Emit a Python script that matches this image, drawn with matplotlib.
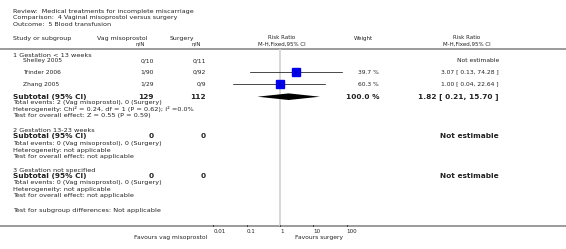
import numpy as np
import matplotlib
matplotlib.use("Agg")
import matplotlib.pyplot as plt

# ---- data ----
title_lines = ["Review:  Medical treatments for incomplete miscarriage",
               "Comparison:  4 Vaginal misoprostol versus surgery",
               "Outcome:  5 Blood transfusion"]
studies = ["Shelley 2005", "Trinder 2006", "Zhang 2005"]
vag_nN = ["0/10", "1/90", "1/29"]
surg_nN = ["0/11", "0/92", "0/9"]
rr = [np.nan, 3.07, 1.00]
rr_lo = [np.nan, 0.13, 0.04]
rr_hi = [np.nan, 74.28, 22.64]
weights = [np.nan, 39.7, 60.3]
rr_text = ["Not estimable", "3.07 [ 0.13, 74.28 ]", "1.00 [ 0.04, 22.64 ]"]
sub_rr, sub_lo, sub_hi = 1.82, 0.21, 15.70
sub_vag_total, sub_surg_total = 129, 112
ticks = [0.01, 0.1, 1, 10, 100]
tick_labels = ["0.01", "0.1", "1", "10", "100"]

W, H = 566, 249
fig = plt.figure(figsize=(W / 100, H / 100), dpi=100)
ax = fig.add_axes([0, 0, 1, 1])
ax.set_xlim(0, W)
ax.set_ylim(H, 0)
ax.axis("off")

FS = 4.3
FN = 4.65
FB = 5.3
TC = "#222222"

def t(x, y, s, ha="left", size=FS, weight="normal", color=TC):
    ax.text(x, y, s, ha=ha, va="center", fontsize=size, fontweight=weight,
            color=color, family="DejaVu Sans")

# titles
for i, s in enumerate(title_lines):
    t(13, 11 + i * 6.5, s, size=FS + 0.3)

# headers
t(13, 38.3, "Study or subgroup", size=FS + 0.2)
t(122, 38.3, "Vag misoprostol", ha="center", size=FS + 0.2)
t(140, 43.8, "n/N", ha="center", size=FS - 0.3)
t(182, 38.3, "Surgery", ha="center", size=FS + 0.2)
t(196, 43.8, "n/N", ha="center", size=FS - 0.3)
t(282, 37.5, "Risk Ratio", ha="center", size=FS - 0.3)
t(282, 43.8, "M-H,Fixed,95% CI", ha="center", size=FS - 0.3)
t(363, 38.3, "Weight", ha="center", size=FS - 0.3)
t(467, 37.5, "Risk Ratio", ha="center", size=FS - 0.3)
t(467, 43.8, "M-H,Fixed,95% CI", ha="center", size=FS - 0.3)

ax.plot([0, W], [49, 49], color="#8a8a8a", lw=1.2, solid_capstyle="butt")
ax.plot([0, W], [226.3, 226.3], color="#8a8a8a", lw=1.2, solid_capstyle="butt")

# subgroup 1
t(13, 55, "1 Gestation < 13 weeks", size=FN)
rows_y = [60.7, 72.3, 84.3]
for i, y in enumerate(rows_y):
    t(23, y, studies[i])
    t(154, y, vag_nN[i], ha="right")
    t(206, y, surg_nN[i], ha="right")
    if not np.isnan(weights[i]):
        t(379, y, f"{weights[i]:.1f} %", ha="right")
    t(499, y, rr_text[i], ha="right")

t(13, 96.7, "Subtotal (95% CI)", size=FB, weight="bold")
t(154, 96.7, str(sub_vag_total), ha="right", size=FB, weight="bold")
t(206, 96.7, str(sub_surg_total), ha="right", size=FB, weight="bold")
t(379, 96.7, "100.0 %", ha="right", size=FB, weight="bold")
t(499, 96.7, f"{sub_rr:.2f} [ {sub_lo:.2f}, {sub_hi:.2f} ]", ha="right", size=FB, weight="bold")
t(13, 102.7, "Total events: 2 (Vag misoprostol), 0 (Surgery)", size=FN)
t(13, 109.0, "Heterogeneity: Chi² = 0.24, df = 1 (P = 0.62); I² =0.0%", size=FN)
t(13, 115.7, "Test for overall effect: Z = 0.55 (P = 0.59)", size=FN)

# subgroup 2
t(13, 130, "2 Gestation 13-23 weeks", size=FN)
t(13, 136.3, "Subtotal (95% CI)", size=FB, weight="bold")
t(154, 136.3, "0", ha="right", size=FB, weight="bold")
t(206, 136.3, "0", ha="right", size=FB, weight="bold")
t(499, 136.3, "Not estimable", ha="right", size=FB, weight="bold")
t(13, 143.5, "Total events: 0 (Vag misoprostol), 0 (Surgery)", size=FN)
t(13, 150.0, "Heterogeneity: not applicable", size=FN)
t(13, 156.3, "Test for overall effect: not applicable", size=FN)

# subgroup 3
t(13, 170, "3 Gestation not specified", size=FN)
t(13, 175.5, "Subtotal (95% CI)", size=FB, weight="bold")
t(154, 175.5, "0", ha="right", size=FB, weight="bold")
t(206, 175.5, "0", ha="right", size=FB, weight="bold")
t(499, 175.5, "Not estimable", ha="right", size=FB, weight="bold")
t(13, 182.5, "Total events: 0 (Vag misoprostol), 0 (Surgery)", size=FN)
t(13, 189.0, "Heterogeneity: not applicable", size=FN)
t(13, 195.3, "Test for overall effect: not applicable", size=FN)

t(13, 210.3, "Test for subgroup differences: Not applicable", size=FN)

t(207, 237.3, "Favours vag misoprostol", ha="right")
t(295, 237.3, "Favours surgery", ha="left")

# ---- forest axes (log scale) ----
x0, x1 = 213.3, 346.7
fax = fig.add_axes([x0 / W, 0, (x1 - x0) / W, 1])
fax.set_xscale("log")
fax.set_xlim(0.01, 100)
fax.set_ylim(H, 0)
fax.axis("off")

fax.plot([1, 1], [49, 226.3], color="#d4d4d4", lw=1.3, solid_capstyle="butt", zorder=1)

for i, y in enumerate(rows_y):
    if np.isnan(rr[i]):
        continue
    fax.plot([rr_lo[i], rr_hi[i]], [y, y], color="black", lw=0.5, clip_on=False, zorder=2)
    ms = 0.83 * np.sqrt(weights[i])
    fax.plot([rr[i]], [y], marker="s", ms=ms, color="#0000ee", mec="#0000ee",
             clip_on=False, zorder=3)
    fax.plot([rr[i], rr[i]], [y - 1.2, y + 1.2], color="black", lw=0.3, zorder=4)

dy = 96.7
fax.fill([sub_lo, sub_rr, sub_hi, sub_rr], [dy, dy - 3.3, dy, dy + 3.3],
         color="black", lw=0, zorder=3)

for tv, tl in zip(ticks, tick_labels):
    fax.plot([tv, tv], [224.5, 226.3], color="black", lw=0.5, clip_on=False)
    fax.text(tv, 231, tl, ha="left", va="center", fontsize=FS - 0.2, color=TC)

fig.savefig("out.png", dpi=100)
